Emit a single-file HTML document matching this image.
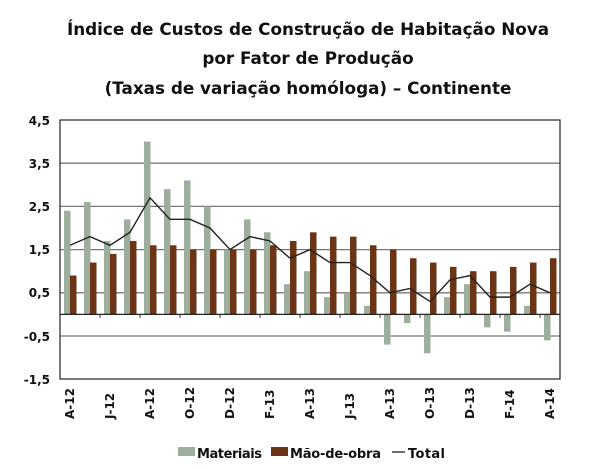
<!DOCTYPE html>
<html><head><meta charset="utf-8"><style>
body{margin:0;background:#fff;}
svg{display:block;font-family:"DejaVu Sans","Liberation Sans",sans-serif;font-weight:bold;}
</style></head><body>
<svg width="610" height="469" viewBox="0 0 610 469">
<g font-size="16.8" text-anchor="middle" fill="#111">
<text x="308" y="35">Índice de Custos de Construção de Habitação Nova</text>
<text x="308" y="64">por Fator de Produção</text>
<text x="308" y="94">(Taxas de variação homóloga) – Continente</text>
</g>
<g stroke="#777" stroke-width="1.3">
<line x1="60" x2="560" y1="163.2" y2="163.2"/>
<line x1="60" x2="560" y1="206.4" y2="206.4"/>
<line x1="60" x2="560" y1="249.6" y2="249.6"/>
<line x1="60" x2="560" y1="292.8" y2="292.8"/>
<line x1="60" x2="560" y1="336" y2="336"/>
</g>
<rect x="60" y="120" width="500" height="259" fill="none" stroke="#333" stroke-width="1.3"/>
<g id="bars"></g>
<line x1="60" x2="560" y1="314.4" y2="314.4" stroke="#222" stroke-width="1.2"/>
<g id="ticks" stroke="#333" stroke-width="1"></g>
<polyline id="tot" fill="none" stroke="#222" stroke-width="1.4"/>
<g font-size="12" text-anchor="end" fill="#111">
<text x="50" y="125">4,5</text><text x="50" y="168">3,5</text><text x="50" y="211">2,5</text>
<text x="50" y="254">1,5</text><text x="50" y="297">0,5</text><text x="50" y="341">-0,5</text>
<text x="50" y="384">-1,5</text>
</g>
<g id="xl" font-size="12" fill="#111"></g>
<g font-size="13" fill="#111">
<rect x="178" y="447" width="17" height="9" fill="#9daf9c"/>
<text x="197" y="458" textLength="65">Materiais</text>
<rect x="271" y="447" width="17" height="9" fill="#6b3415"/>
<text x="290" y="458" textLength="91">Mão-de-obra</text>
<line x1="392" x2="405" y1="452" y2="452" stroke="#222" stroke-width="1.3"/>
<text x="408" y="458" textLength="37">Total</text>
</g>
</svg>
<script>
var m=[2.4,2.6,1.7,2.2,4.0,2.9,3.1,2.5,1.5,2.2,1.9,0.7,1.0,0.4,0.5,0.2,-0.7,-0.2,-0.9,0.4,0.7,-0.3,-0.4,0.2,-0.6];
var l=[0.9,1.2,1.4,1.7,1.6,1.6,1.5,1.5,1.5,1.5,1.6,1.7,1.9,1.8,1.8,1.6,1.5,1.3,1.2,1.1,1.0,1.0,1.1,1.2,1.3];
var t=[1.6,1.8,1.6,1.9,2.7,2.2,2.2,2.0,1.5,1.8,1.7,1.3,1.5,1.2,1.2,0.9,0.5,0.6,0.3,0.8,0.9,0.4,0.4,0.7,0.5];
var lab=["A-12","J-12","A-12","O-12","D-12","F-13","A-13","J-13","A-13","O-13","D-13","F-14","A-14"];
var ns="http://www.w3.org/2000/svg",Y=function(v){return 314.4-v*43.2;};
var b=document.getElementById("bars"),tk=document.getElementById("ticks"),xl=document.getElementById("xl"),pts=[];
function r(x,v,c){var e=document.createElementNS(ns,"rect");var y0=Y(Math.max(v,0)),y1=Y(Math.min(v,0));
e.setAttribute("x",x);e.setAttribute("y",y0);e.setAttribute("width",6.5);e.setAttribute("height",y1-y0);e.setAttribute("fill",c);b.appendChild(e);}
for(var i=0;i<25;i++){var x0=60+i*20;r(x0+4,m[i],"#9daf9c");r(x0+10,l[i],"#6b3415");pts.push((x0+10)+","+Y(t[i]));
if(i>0&&i%2==0){var e=document.createElementNS(ns,"line");e.setAttribute("x1",x0);e.setAttribute("x2",x0);e.setAttribute("y1",314.4);e.setAttribute("y2",318);tk.appendChild(e);}
if(i%2==0){var tx=document.createElementNS(ns,"text");tx.setAttribute("transform","translate("+(x0+14)+",419) rotate(-90)");tx.textContent=lab[i/2];xl.appendChild(tx);}}
document.getElementById("tot").setAttribute("points",pts.join(" "));
</script>
</body></html>
